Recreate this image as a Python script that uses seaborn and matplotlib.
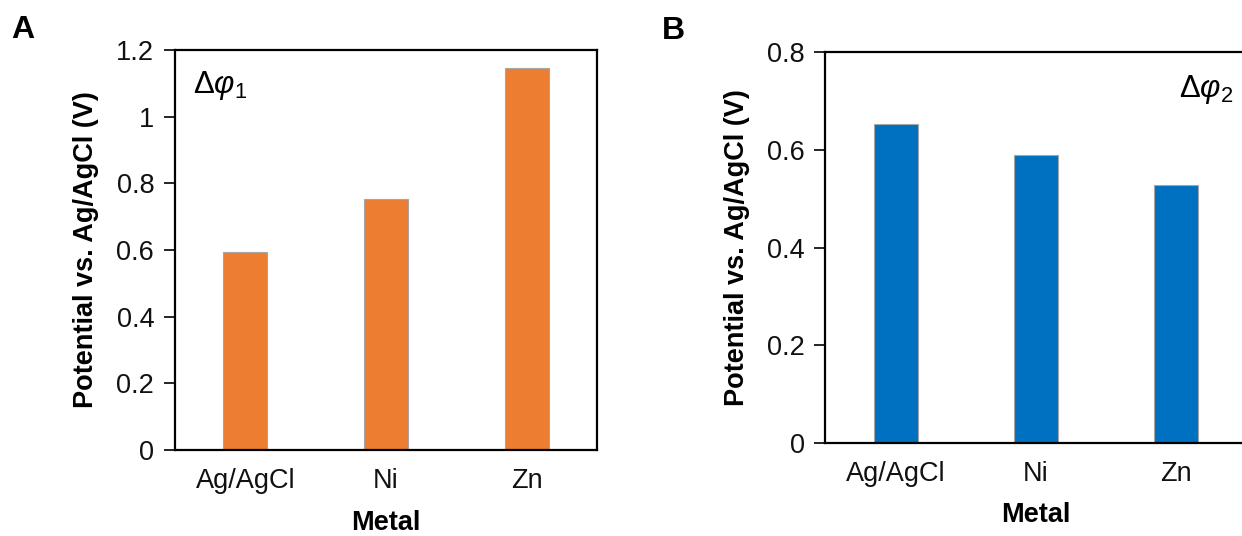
import matplotlib
matplotlib.use("Agg")
import matplotlib.pyplot as plt
import seaborn as sns
import pandas as pd

metals = ["Ag/AgCl", "Ni", "Zn"]
dphi1 = [0.595, 0.753, 1.145]
dphi2 = [0.652, 0.590, 0.528]
ticks_a = [0, 0.2, 0.4, 0.6, 0.8, 1, 1.2]
ticks_b = [0, 0.2, 0.4, 0.6, 0.8]

sns.set_theme(style="white")
plt.rcParams["font.family"] = ["Liberation Sans", "DejaVu Sans"]
plt.rcParams["mathtext.fontset"] = "custom"
plt.rcParams["mathtext.rm"] = "Liberation Sans"
plt.rcParams["mathtext.it"] = "Liberation Sans:italic"
plt.rcParams["text.color"] = "black"
plt.rcParams["axes.labelcolor"] = "black"

fig = plt.figure(figsize=(12.42, 5.36), dpi=100)
axA = fig.add_axes([175/1242, (536-450)/536, 422/1242, 400/536])
axB = fig.add_axes([825.5/1242, (536-443)/536, 421/1242, 391/536])

dfA = pd.DataFrame({"Metal": metals, "V": dphi1})
dfB = pd.DataFrame({"Metal": metals, "V": dphi2})

sns.barplot(data=dfA, x="Metal", y="V", ax=axA, color="#ED7D31", saturation=1,
            width=0.315, edgecolor="#A6A6A6", linewidth=0.8)
sns.barplot(data=dfB, x="Metal", y="V", ax=axB, color="#0070C0", saturation=1,
            width=0.315, edgecolor="#A6A6A6", linewidth=0.8)

def style(ax, ticks, ymax, labels, xlabelpad):
    ax.set_xlim(-0.5, 2.5)
    ax.set_ylim(0, ymax)
    ax.set_yticks(ticks)
    ax.set_yticklabels(labels, fontsize=19.5)
    ax.tick_params(axis="y", which="both", left=True, length=8, width=1.2,
                   direction="out", pad=7, color="black", labelcolor="#111111")
    ax.tick_params(axis="x", bottom=False, length=0, labelsize=19.5, pad=13,
                   labelcolor="#111111")
    for s in ax.spines.values():
        s.set_visible(True)
        s.set_color("black")
        s.set_linewidth(1.6)
    ax.set_xlabel("Metal", fontsize=19.5, fontweight="bold", labelpad=xlabelpad)
    ax.set_ylabel("Potential vs. Ag/AgCl (V)", fontsize=19.5, fontweight="bold",
                  labelpad=12)

style(axA, ticks_a, 1.2, ["0", "0.2", "0.4", "0.6", "0.8", "1", "1.2"], 11.5)
style(axB, ticks_b, 0.8, ["0", "0.2", "0.4", "0.6", "0.8"], 11)

axA.text(0.042, 0.91, r"$\Delta\varphi_1$", transform=axA.transAxes, fontsize=22.5,
         ha="left", va="center")
axB.text(0.84, 0.905, r"$\Delta\varphi_2$", transform=axB.transAxes, fontsize=22.5,
         ha="left", va="center")

fig.text(11/1242, 1 - 30/536, "A", fontsize=23, fontweight="bold", ha="left", va="center")
fig.text(662/1242, 1 - 31/536, "B", fontsize=23, fontweight="bold", ha="left", va="center")

fig.savefig("out.png", dpi=100)
